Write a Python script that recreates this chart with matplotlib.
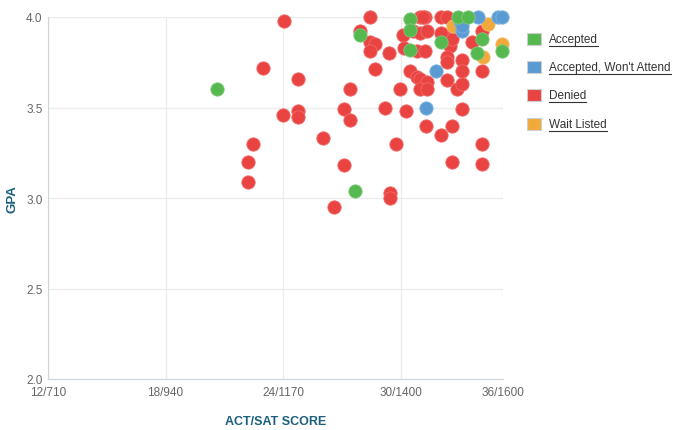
import matplotlib
matplotlib.use("Agg")
import matplotlib.pyplot as plt
from matplotlib.patches import Rectangle
from matplotlib.lines import Line2D

plt.rcParams['font.family'] = ['Liberation Sans', 'DejaVu Sans']

# data: SAT-equivalent score, GPA
acc_sat = [1041, 1310, 1320, 1418, 1418, 1418, 1479, 1512, 1532, 1559, 1549, 1598]
acc_gpa = [3.60, 3.04, 3.90, 3.99, 3.93, 3.82, 3.86, 4.00, 4.00, 3.88, 3.80, 3.81]

wont_sat = [1449, 1469, 1516, 1520, 1520, 1551, 1590, 1598]
wont_gpa = [3.50, 3.70, 3.98, 3.92, 3.95, 4.00, 4.00, 4.00]

wait_sat = [1598, 1502, 1561, 1571]
wait_gpa = [3.85, 3.95, 3.78, 3.96]

den_sat = [1172, 1131, 1199, 1170, 1199, 1199, 1111, 1101, 1101, 1248, 1289, 1269,
           1301, 1289, 1301, 1340, 1320, 1340, 1350, 1340, 1377, 1350, 1399, 1369,
           1410, 1391, 1379, 1379, 1449, 1479, 1500, 1520, 1559, 1500, 1559, 1559,
           1404, 1406, 1418, 1432, 1438, 1451, 1438, 1451, 1424, 1438, 1451, 1432,
           1447, 1447, 1438, 1479, 1490, 1490, 1496, 1490, 1490, 1490, 1510, 1520,
           1520, 1520, 1539, 1559, 1500, 1479, 1444]
den_gpa = [3.98, 3.72, 3.66, 3.46, 3.48, 3.45, 3.30, 3.20, 3.09, 3.33, 3.18, 2.95,
           3.60, 3.49, 3.43, 4.00, 3.92, 3.86, 3.85, 3.81, 3.80, 3.71, 3.60, 3.50,
           3.48, 3.30, 3.03, 3.00, 3.40, 3.35, 3.40, 3.49, 3.30, 3.20, 3.19, 3.70,
           3.90, 3.83, 3.70, 3.67, 3.66, 3.64, 3.60, 3.60, 3.92, 3.91, 3.92, 3.81,
           3.81, 4.00, 4.00, 4.00, 4.00, 3.90, 3.84, 3.78, 3.75, 3.65, 3.60, 3.76,
           3.70, 3.63, 3.86, 3.92, 3.88, 3.91, 4.00]

xticks = [710, 940, 1170, 1400, 1600]
xlabels = ["12/710", "18/940", "24/1170", "30/1400", "36/1600"]
yticks = [2.0, 2.5, 3.0, 3.5, 4.0]

c_acc = "#55b94f"
c_wont = "#5a9bd3"
c_den = "#e94442"
c_wait = "#f2a93b"

fig = plt.figure(figsize=(6.8, 4.31), dpi=100)
ax = fig.add_axes([48 / 680, 1 - 380 / 431, (503 - 48) / 680, (380 - 18) / 431])

ms = 92
kw = dict(s=ms, linewidths=0.6, clip_on=False)
ax.scatter(den_sat, den_gpa, color=c_den, edgecolors="#f06a68", zorder=3, **kw)
ax.scatter(wait_sat, wait_gpa, color=c_wait, edgecolors="#f5bd6a", zorder=4, **kw)
ax.scatter(wont_sat, wont_gpa, color=c_wont, edgecolors="#80b3e0", zorder=5, **kw)
ax.scatter(acc_sat, acc_gpa, color=c_acc, edgecolors="#7fcb7a", zorder=6, **kw)

ax.set_xlim(710, 1600)
ax.set_ylim(2.0, 4.0)
ax.set_xticks(xticks)
ax.set_xticklabels(xlabels)
ax.set_yticks(yticks)
ax.set_yticklabels([f"{v:.1f}" for v in yticks])
ax.grid(True, color="#ececec", linewidth=1)
ax.set_axisbelow(True)
for s in ["top", "right"]:
    ax.spines[s].set_visible(False)
for s in ["left", "bottom"]:
    ax.spines[s].set_color("#ccd6e0")
ax.tick_params(length=0, labelsize=8.5, colors="#666666")
ax.tick_params(axis="x", pad=5)
ax.tick_params(axis="y", pad=4)
ax.set_xlabel("ACT/SAT SCORE", fontsize=9, fontweight="bold", color="#1a5f7e", labelpad=12)
ax.set_ylabel("GPA", fontsize=9.5, fontweight="bold", color="#1a5f7e", labelpad=5)

# legend with underlined labels
names = ["Accepted", "Accepted, Won't Attend", "Denied", "Wait Listed"]
cols = [c_acc, c_wont, c_den, c_wait]
rows = [40, 68, 96, 125]
texts = []
for name, col, yy in zip(names, cols, rows):
    fig.patches.append(Rectangle((527 / 680, 1 - (yy + 6) / 431), 14 / 680, 12 / 431,
                                 transform=fig.transFigure, facecolor=col,
                                 edgecolor="#cfcfcf", linewidth=0.8))
    t = fig.text(549 / 680, 1 - yy / 431, name, fontsize=8.5, color="#333333",
                 va="center", ha="left")
    texts.append(t)

r = fig.canvas.get_renderer()
inv = fig.transFigure.inverted()
for t in texts:
    bb = t.get_window_extent(r).transformed(inv)
    fig.add_artist(Line2D([bb.x0, bb.x1], [bb.y0 - 0.002, bb.y0 - 0.002],
                          transform=fig.transFigure, color="#333333", linewidth=0.8))

fig.savefig("out.png", dpi=100)
